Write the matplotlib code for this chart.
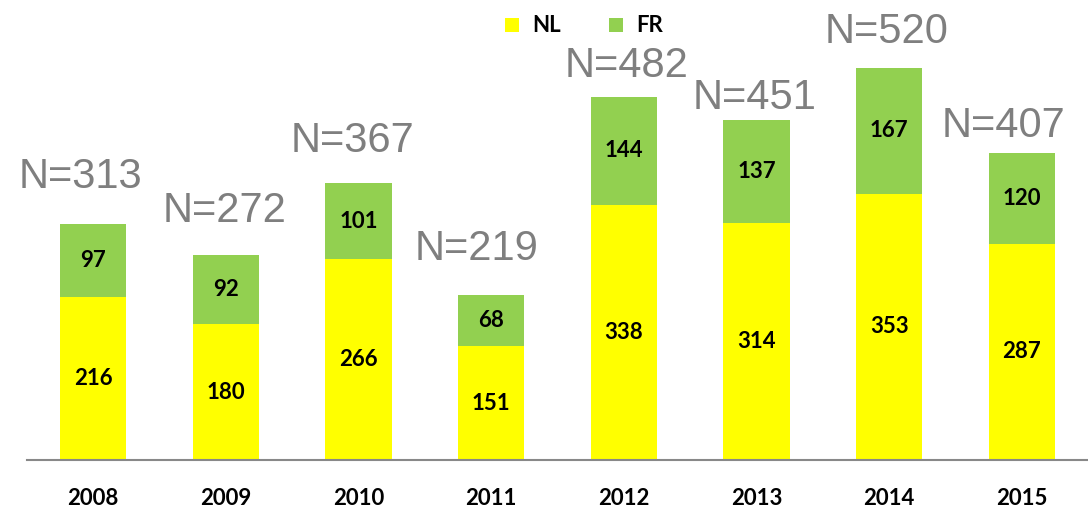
import matplotlib.pyplot as plt
import numpy as np

years = ["2008", "2009", "2010", "2011", "2012", "2013", "2014", "2015"]
nl = [216, 180, 266, 151, 338, 314, 353, 287]
fr = [97, 92, 101, 68, 144, 137, 167, 120]
totals = [313, 272, 367, 219, 482, 451, 520, 407]

# small per-label nudges (pixels) for the N= labels, as in the original
label_dx = [-13, -1, -6, -15, 3, -2, -2, -18]
label_dy = [27, 24, 22, 26, 11, 2, 16, 7]

yellow = "#FFFF00"
green = "#92D050"
gray = "#7F7F7F"

fig = plt.figure(figsize=(10.88, 5.07), dpi=100)
ax = fig.add_axes([27 / 1088, 47 / 507, 1 - 27 / 1088, 1 - 47 / 507])

x = np.arange(len(years))
ax.bar(x, nl, width=0.5, color=yellow, label="NL")
ax.bar(x, fr, width=0.5, bottom=nl, color=green, label="FR")

for i in range(len(years)):
    ax.text(x[i], nl[i] / 2, str(nl[i]), ha="center", va="center",
            fontsize=16, fontweight="bold", family="Lato")
    ax.text(x[i], nl[i] + fr[i] / 2, str(fr[i]), ha="center", va="center",
            fontsize=16, fontweight="bold", family="Lato")
    ax.annotate("N=%d" % totals[i], (x[i], totals[i]),
                xytext=(label_dx[i], label_dy[i]), textcoords="offset pixels",
                ha="center", va="bottom", fontsize=30, color=gray,
                family="Liberation Sans")

ax.set_xlim(-0.5, 7.5)
ax.set_ylim(0, 610)
ax.set_xticks(x)
ax.set_xticklabels(years, fontsize=16, fontweight="bold", family="Lato")
ax.tick_params(axis="x", length=0, pad=20)
ax.set_yticks([])
for s in ["top", "right", "left"]:
    ax.spines[s].set_visible(False)
ax.spines["bottom"].set_color("#888888")
ax.spines["bottom"].set_linewidth(1.5)

ax.legend(loc="upper center", bbox_to_anchor=(0.525, 1.01), ncol=2,
          frameon=False, handlelength=0.6, handleheight=0.6,
          columnspacing=2.2, handletextpad=0.6,
          prop={"family": "Lato", "weight": "bold", "size": 16})

fig.savefig("out.png", dpi=100)
